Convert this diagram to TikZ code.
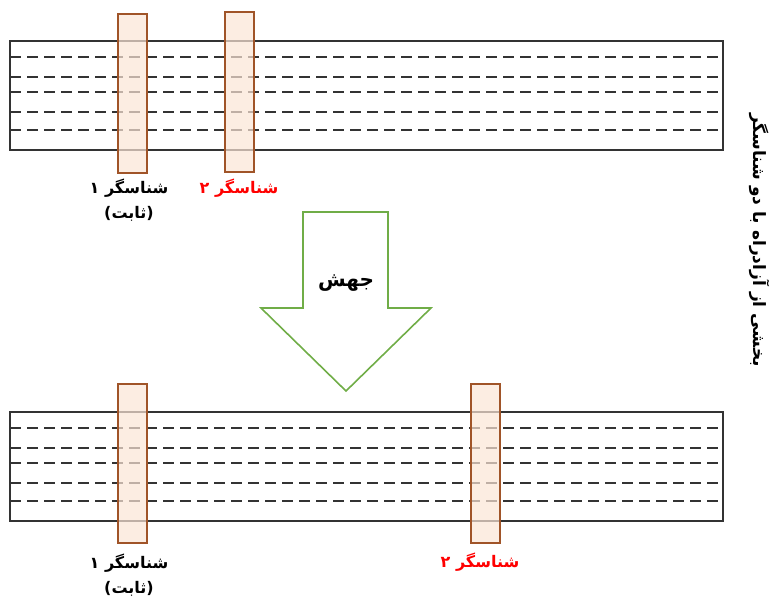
\documentclass[tikz,border=0pt]{standalone}
\usepackage{fontspec}
\newfontfamily\arabicfont[Script=Arabic]{DejaVu Sans}
\TeXXeTstate=1
\newcommand{\fatext}[1]{\arabicfont\bfseries\beginR #1\endR}

\definecolor{sensorfill}{RGB}{251,229,214}
\definecolor{sensorline}{RGB}{160,84,40}
\definecolor{jumpgreen}{RGB}{112,173,71}

\begin{document}
\begin{tikzpicture}[x=1pt, y=-1pt,
  road/.style={draw=black!80, line width=1.6pt},
  lane/.style={black!80, line width=1.4pt, dash pattern=on 11pt off 6pt},
  sensor/.style={draw=sensorline, line width=1.6pt, fill=sensorfill, fill opacity=.7},
  label/.style={font=\fontsize{16}{25}\selectfont, align=center, inner sep=1pt}]
\useasboundingbox (0,0) rectangle (774,600);

% the two road stretches, before and after
\foreach \top in {41,412} {
  \draw[road] (10,\top) rectangle (723,\top+109);
  \foreach \d in {16,36,51,71,89}
    \draw[lane] (10,\top+\d) -- (723,\top+\d);
}

% sensors
\draw[sensor] (118,14) rectangle (147,173);
\draw[sensor] (225,12) rectangle (254,172);
\draw[sensor] (118,384) rectangle (147,543);
\draw[sensor] (471,384) rectangle (500,543);

\node[label] (s1a) at (129,200) {\fatext{شناسگر ۱}\\\fatext{(ثابت)}};
\node[label, text=red] (s2a) at (239,188) {\fatext{شناسگر ۲}};
\node[label] (s1b) at (129,575) {\fatext{شناسگر ۱}\\\fatext{(ثابت)}};
\node[label, text=red] (s2b) at (480,562) {\fatext{شناسگر ۲}};

% jump arrow
\draw[jumpgreen, line width=1.6pt, line join=miter]
  (303,212) -- (388,212) -- (388,308) -- (431,308) -- (346,391)
  -- (261,308) -- (303,308) -- cycle;
\node[label, font=\fontsize{20}{24}\selectfont] (jump) at (346,283) {\fatext{جهش}};

\node[label, font=\fontsize{17}{20}\selectfont, rotate=-90] (title) at (760,240) {\fatext{بخشی از آزادراه با دو شناسگر}};
\end{tikzpicture}
\end{document}
